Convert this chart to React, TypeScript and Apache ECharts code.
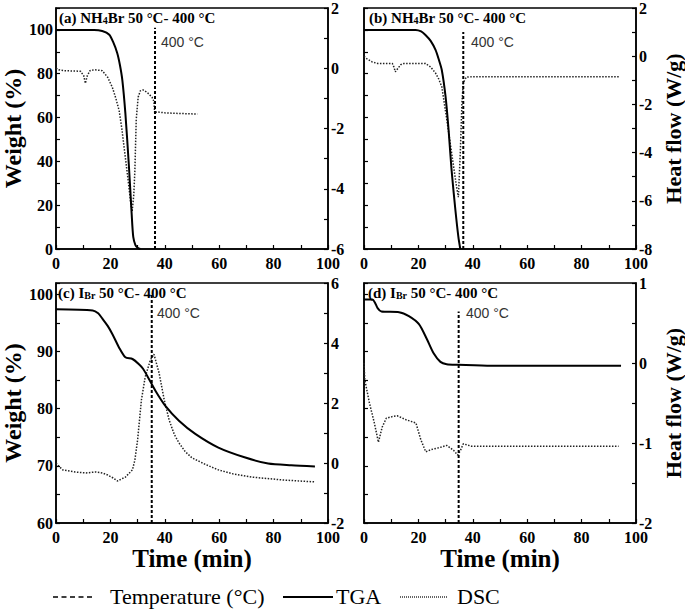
import React, { useEffect, useRef } from 'react';
import * as echarts from 'echarts';

// ---------- data (time in min) ----------
const A_TGA: number[][] = [[0,100],[14,100],[17,99.5],[19.6,97.8],[21,94.5],[22.5,89.5],[23.5,84],[24.4,77],[25.5,62],[26.8,38],[27.8,16.4],[28.4,5.5],[29.2,1.8],[30,0.6],[31,0]];
const A_DSC: number[][] = [[0,0],[1,-0.05],[3,-0.08],[9,-0.1],[10.2,-0.25],[10.8,-0.5],[11.5,-0.25],[12.5,-0.08],[14,-0.05],[17,-0.08],[19,-0.3],[20.7,-0.63],[22,-1.0],[23.2,-1.4],[24.2,-2.0],[25,-2.6],[26.5,-3.7],[27.5,-4.5],[28,-4.75],[28.6,-4.2],[29,-3.4],[29.5,-1.7],[30.2,-0.96],[31,-0.75],[32,-0.72],[33.5,-0.8],[35.3,-0.96],[36,-1.1],[36.3,-1.5],[37,-1.45],[40,-1.48],[45,-1.5],[52,-1.52]];
const B_TGA: number[][] = [[0,100],[19,100],[21,99.3],[22.6,97.7],[24.5,95],[26.3,90.9],[27.5,86.5],[28.6,81.7],[30,69.4],[31.1,54.3],[32.2,36],[33.6,17.8],[34.7,5.5],[35.4,0]];
const B_DSC: number[][] = [[0,0],[1,-0.1],[3,-0.24],[5,-0.3],[10.4,-0.3],[11,-0.45],[11.5,-0.65],[12.5,-0.5],[13.5,-0.35],[14.7,-0.3],[22.6,-0.3],[24.5,-0.45],[26.3,-0.7],[27.5,-0.95],[28.6,-1.27],[30.4,-2.6],[32.2,-4.0],[34,-5.4],[34.7,-5.85],[35.4,-4.0],[36,-1.95],[36.5,-1.1],[37.6,-0.87],[40,-0.85],[60,-0.85],[94,-0.85]];
const C_TGA: number[][] = [[0,97.4],[13.5,97.2],[15.5,96.7],[17,95.8],[19,94.5],[20.8,93],[23.3,90.6],[25.5,89],[28.1,88.7],[30.5,87.8],[32,87],[33.6,85.7],[36.6,83.1],[40.2,80.5],[45.2,77.9],[51.2,75.6],[59.7,73.2],[69.3,71.5],[78,70.4],[86.5,70.1],[95.2,69.9]];
const C_DSC: number[][] = [[0,0],[1,-0.1],[2.5,-0.23],[7,-0.3],[11,-0.33],[14.6,-0.3],[17,-0.33],[19,-0.4],[21,-0.5],[22.6,-0.6],[25.5,-0.47],[28.1,-0.23],[29,0.1],[30,0.77],[31.4,2.1],[32.8,2.87],[34.7,3.43],[36,3.63],[37.9,3.0],[39.8,2.1],[41.6,1.43],[43.5,0.95],[45.2,0.67],[47.5,0.38],[50,0.17],[55,-0.05],[59.7,-0.23],[65,-0.36],[71.9,-0.47],[84,-0.57],[95.2,-0.63]];
const D_TGA: number[][] = [[0,99.1],[3.1,99.1],[4,98.6],[5,97.6],[6.4,97],[12.9,96.9],[16.5,96.2],[20.2,94.8],[23.1,92.2],[25.6,89.7],[28.1,88.2],[30.4,87.8],[34.7,87.7],[46.7,87.5],[94.5,87.5]];
const D_DSC: number[][] = [[0,0],[0.3,-0.21],[2,-0.5],[3.8,-0.75],[5.3,-0.99],[6.7,-0.8],[8.2,-0.69],[10.4,-0.67],[12.2,-0.66],[15.5,-0.71],[19.1,-0.75],[20.9,-0.96],[22.7,-1.11],[24.9,-1.08],[27.5,-1.06],[30.4,-1.03],[32.9,-1.09],[34.4,-1.15],[35.5,-1.09],[36.5,-1.01],[39.5,-1.04],[93.6,-1.04]];

// time at which 400 °C is reached, and the weight span of the marker line
const TEMP_TIME = [36.4, 36.5, 35.2, 34.8];
const TEMP_SPAN: number[][] = [[0, 101], [0, 99], [60, 100], [60, 97]];

const PANEL_TITLES = [
  '(a) NH{s|4}Br 50 °C- 400 °C',
  '(b) NH{s|4}Br 50 °C- 400 °C',
  '(c) I{s|Br} 50 °C- 400 °C',
  '(d) I{s|Br} 50 °C- 400 °C',
];
const TEMP_LABEL = '400 °C';
const LEGEND_NAMES = ['Temperature (°C)', 'TGA', 'DSC'];

// axis ranges
const WEIGHT_RANGES = [[0, 110, 10], [0, 110, 10], [60, 102, 5], [60, 102, 5]];
const HEAT_RANGES = [[-6, 2, 1], [-8, 2, 1], [-2, 6, 1], [-2, 1, 0.5]];

const SERIF = '"Liberation Serif", "Times New Roman", serif';
const SANS = '"Liberation Sans", Arial, sans-serif';

export default function App() {
  const ref = useRef<HTMLDivElement>(null);
  useEffect(() => {
    if (!ref.current) return;
    const chart = echarts.init(ref.current, undefined, { renderer: 'svg' });

    const grids = [
      { left: 53, top: 8, width: 275, height: 241 },
      { left: 364, top: 8, width: 275, height: 241 },
      { left: 53, top: 283, width: 275, height: 240 },
      { left: 364, top: 283, width: 275, height: 240 },
    ].map((g) => ({ ...g, show: true, borderColor: '#000', borderWidth: 1.5, backgroundColor: 'transparent' }));

    const axisLine = { show: true, onZero: false, lineStyle: { color: '#000', width: 1.5 } };
    const axisTick = { show: true, inside: true, length: 4, lineStyle: { color: '#000', width: 1.2 } };
    const labelBase = { fontFamily: SERIF, fontWeight: 'bold' as const, fontSize: 16, color: '#000' };

    const xAxis = [0, 1, 2, 3].map((i) => ({
      type: 'value',
      gridIndex: i,
      min: 0,
      max: 100,
      interval: 10,
      axisLine,
      axisTick,
      splitLine: { show: false },
      axisLabel: { ...labelBase, margin: 6, formatter: (v: number) => (v % 20 === 0 ? String(v) : '') },
      name: i >= 2 ? 'Time (min)' : '',
      nameLocation: 'middle',
      nameGap: 22,
      nameTextStyle: { fontFamily: SERIF, fontWeight: 'bold', fontSize: 25, color: '#000' },
    }));

    const yAxis: any[] = [];
    [0, 1, 2, 3].forEach((i) => {
      const [wmin, wmax, wint] = WEIGHT_RANGES[i];
      const [hmin, hmax, hint] = HEAT_RANGES[i];
      const leftLabels = i % 2 === 0;
      const rightLabelStep = i === 3 ? 1 : 2;
      yAxis.push({
        type: 'value',
        gridIndex: i,
        position: 'left',
        min: wmin,
        max: wmax,
        interval: wint,
        axisLine,
        axisTick,
        splitLine: { show: false },
        axisLabel: {
          ...labelBase,
          show: leftLabels,
          margin: 3,
          formatter: (v: number) => (v % 20 === 0 || (wmin === 60 && v % 10 === 0)) && v <= 100 ? String(v) : '',
        },
        name: leftLabels ? 'Weight (%)' : '',
        nameLocation: 'middle',
        nameRotate: 90,
        nameGap: 31,
        nameTextStyle: { fontFamily: SERIF, fontWeight: 'bold', fontSize: 24, color: '#000' },
      });
      yAxis.push({
        type: 'value',
        gridIndex: i,
        position: 'right',
        min: hmin,
        max: hmax,
        interval: hint,
        axisLine,
        axisTick,
        splitLine: { show: false },
        axisLabel: {
          ...labelBase,
          margin: 3,
          formatter: (v: number) => (Math.abs(v % rightLabelStep) < 1e-9 ? String(v) : ''),
        },
        name: i % 2 === 1 ? 'Heat flow (W/g)' : '',
        nameLocation: 'middle',
        nameRotate: 90,
        nameGap: 26,
        nameTextStyle: { fontFamily: SERIF, fontWeight: 'bold', fontSize: 22, color: '#000' },
      });
    });

    const tga = [A_TGA, B_TGA, C_TGA, D_TGA];
    const dsc = [A_DSC, B_DSC, C_DSC, D_DSC];
    const series: any[] = [];
    [0, 1, 2, 3].forEach((i) => {
      series.push({
        type: 'line', name: 'TGA', xAxisIndex: i, yAxisIndex: 2 * i, data: tga[i],
        symbol: 'none', smooth: 0.25, lineStyle: { color: '#000', width: 2 }, z: 3,
      });
      series.push({
        type: 'line', name: 'DSC', xAxisIndex: i, yAxisIndex: 2 * i + 1, data: dsc[i],
        symbol: 'none', lineStyle: { color: '#222', width: 1.5, type: [1.5, 1.5] }, z: 2,
      });
      series.push({
        type: 'line', name: 'Temperature (°C)', xAxisIndex: i, yAxisIndex: 2 * i,
        data: TEMP_SPAN[i].map((w) => [TEMP_TIME[i], w]),
        symbol: 'none', lineStyle: { color: '#000', width: 2, type: [3, 2] }, z: 4,
      });
    });

    const titlePos = [
      { left: 59, top: 10 }, { left: 369, top: 10 },
      { left: 58, top: 285 }, { left: 368, top: 285 },
    ];
    const title: any[] = PANEL_TITLES.map((t, i) => ({
      text: t,
      ...titlePos[i],
      padding: 0,
      textStyle: {
        fontFamily: SERIF, fontWeight: 'bold', fontSize: 15, color: '#000',
        rich: { s: { fontFamily: SERIF, fontWeight: 'bold', fontSize: 10, color: '#000', padding: [5, 0, 0, 0] } },
      },
    }));
    // legend texts (serif, regular)
    const legendX = [110, 336, 457];
    LEGEND_NAMES.forEach((n, i) => {
      title.push({
        text: n, left: legendX[i], top: 585, padding: 0,
        textStyle: { fontFamily: SERIF, fontWeight: 'normal', fontSize: 22, color: '#000' },
      });
    });

    const labelPos = [[161, 42], [471, 42], [157, 313], [466, 313]];
    const legY = 597;
    const graphic: any[] = [
      ...labelPos.map(([x, y]) => ({
        type: 'text', x, y,
        style: { text: TEMP_LABEL, font: 'normal 14px "Liberation Sans", Arial, sans-serif', fill: '#333', verticalAlign: 'middle', align: 'left' },
      })),
      { type: 'line', shape: { x1: 53, y1: legY, x2: 95, y2: legY }, style: { stroke: '#000', lineWidth: 1.5, lineDash: [5, 3.5] } },
      { type: 'line', shape: { x1: 283, y1: legY, x2: 333, y2: legY }, style: { stroke: '#000', lineWidth: 2 } },
      { type: 'line', shape: { x1: 400, y1: legY, x2: 448, y2: legY }, style: { stroke: '#333', lineWidth: 1.5, lineDash: [1, 1] } },
    ];

    chart.setOption({
      animation: false,
      backgroundColor: '#fff',
      title,
      grid: grids,
      xAxis,
      yAxis,
      series,
      graphic,
    });
    return () => chart.dispose();
  }, []);
  return <div ref={ref} style={{ position: 'absolute', left: 0, top: 0, width: 685, height: 610 }} />;
}
